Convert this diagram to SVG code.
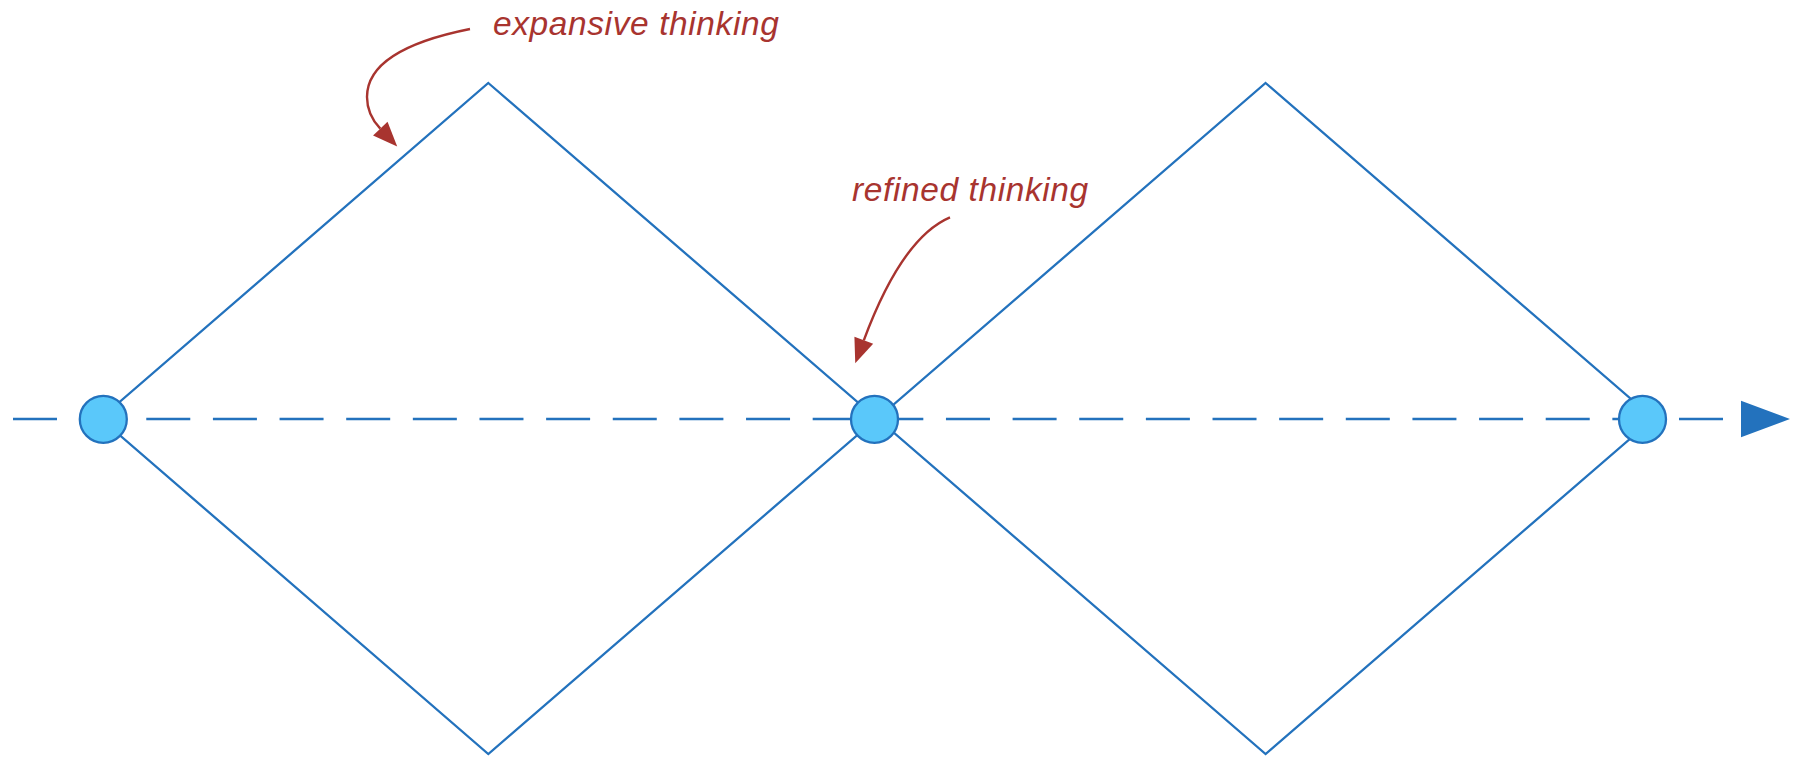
<svg xmlns="http://www.w3.org/2000/svg" width="1797" height="757" viewBox="0 0 1797 757">
<style>
.edge{fill:none;stroke:#2372bd;stroke-width:2.3;stroke-linejoin:miter}
.axis{fill:none;stroke:#2372bd;stroke-width:2.3;stroke-dasharray:44 22.64}
.node{fill:#5ac8fa;stroke:#2372bd;stroke-width:2.3}
.note{fill:none;stroke:#a8342f;stroke-width:2.4}
.label{font-family:"Liberation Sans",Arial,sans-serif;font-style:italic;font-size:33.5px;letter-spacing:0.6px;fill:#a8342f}
</style>
<defs>
<marker id="blueArrow" markerUnits="userSpaceOnUse" markerWidth="50" markerHeight="40" viewBox="0 -18 48 36" refX="0" refY="0" orient="auto" overflow="visible">
<path d="M0,-17.5 L47,0 L0,17.5 z" fill="#2372bd"/>
</marker>
<marker id="redArrow" markerUnits="userSpaceOnUse" markerWidth="26" markerHeight="22" viewBox="0 -11 25 22" refX="0" refY="0" orient="auto" overflow="visible">
<path d="M0,-10 L24.5,0 L0,10 z" fill="#a8342f"/>
</marker>
</defs>
<g id="connectors">
<polygon class="edge" points="488.3,83 876.5,418.5 488.3,754 100.5,418.5"/>
<polygon class="edge" points="1265.6,83 1653.5,418.5 1265.6,754 877.5,418.5"/>
<line class="axis" x1="13" y1="419" x2="1741" y2="419" marker-end="url(#blueArrow)"/>
<path class="note" d="M470,29 C415,40 367,60 367,97 C367,110 372,120 380.3,128.7" marker-end="url(#redArrow)"/>
<path class="note" d="M950,217.3 C920,230 890,270 863.8,340.3" marker-end="url(#redArrow)"/>
</g>
<g id="node-start"><circle class="node" cx="103.3" cy="419.3" r="23.5"/></g>
<g id="node-middle"><circle class="node" cx="874.5" cy="419.3" r="23.5"/></g>
<g id="node-end"><circle class="node" cx="1642.5" cy="419.3" r="23.5"/></g>
<g id="label-expansive"><text class="label" x="493" y="35">expansive thinking</text></g>
<g id="label-refined"><text class="label" x="852" y="200.5">refined thinking</text></g>
</svg>
